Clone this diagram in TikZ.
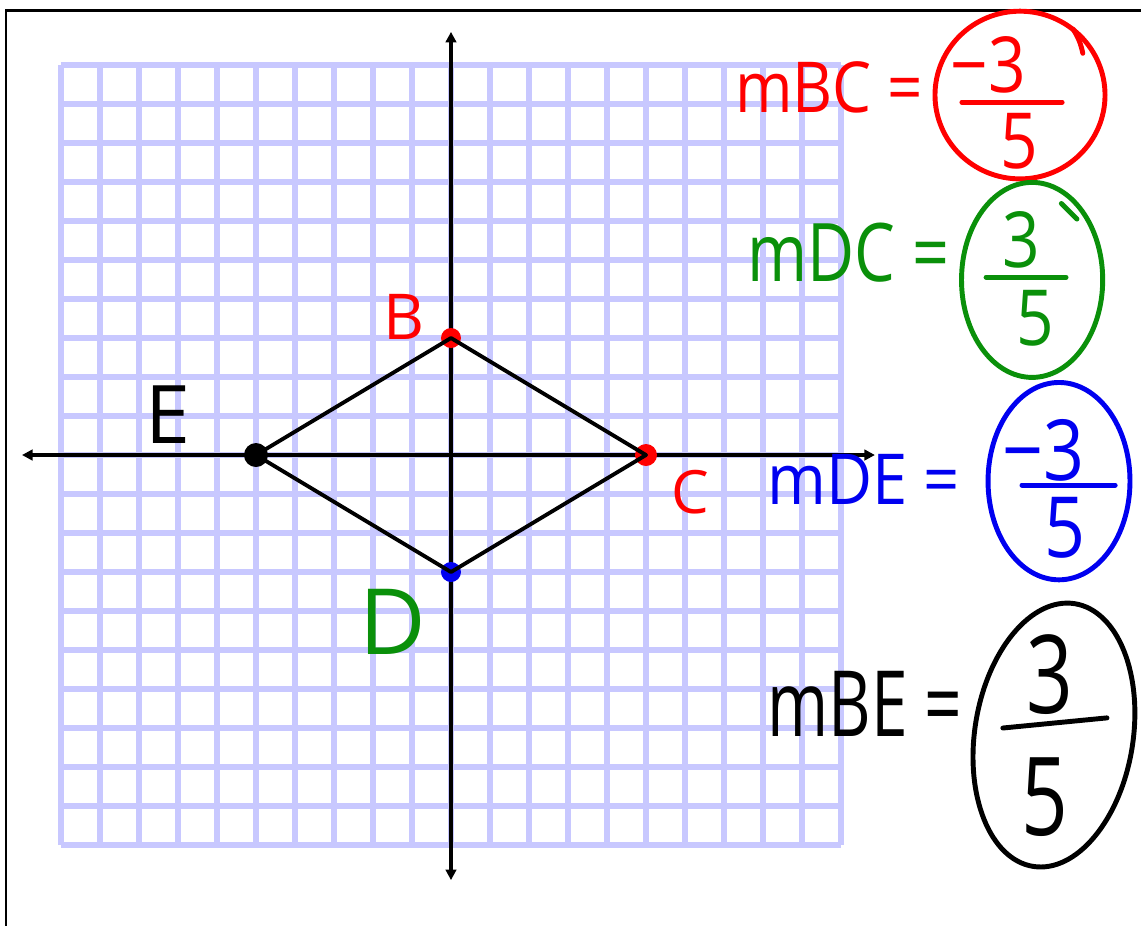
\documentclass[tikz,border=0pt]{standalone}
\usepackage{fontspec}
\setmainfont{Open Sans}
\usepackage{graphicx}
\usepackage{tikz}
\usetikzlibrary{arrows.meta}
\definecolor{GPaper}{HTML}{C8C8FF}
\definecolor{GRed}{HTML}{FF0000}
\definecolor{GGreen}{HTML}{0A900A}
\definecolor{GBlue}{HTML}{0000F0}
\newcommand\handfont[1]{\fontsize{#1}{#1}\selectfont}
\newcommand\squeeze[2]{\scalebox{#1}[1]{#2}}

\begin{document}
\begin{tikzpicture}[x=0.78cm,y=0.78cm,
  gridline/.style={GPaper,line width=3.4pt},
  axisline/.style={line width=1.8pt,{Triangle[length=6pt,width=6pt]}-{Triangle[length=6pt,width=6pt]}},
  side/.style={line width=2.2pt,line join=round},
  vertex/.style={circle,inner sep=0pt,minimum size=#1},
  ring/.style={line width=2.8pt},
  bar/.style={line width=2.8pt,line cap=round},
  eqn/.style={anchor=base west,inner sep=0pt}]
\path[use as bounding box] (-11.564,-12.051) rectangle (17.692,11.667);
\fill[white] (-11.564,-12.051) rectangle (17.692,11.667);
\draw[line width=1.7pt] (-11.41,-12.2) -- (-11.41,11.41) -- (17.8,11.41);
% graph paper
\draw[gridline,step=1] (-10,-10) grid (10,10);
% axes
\coordinate (xl) at (-11,0);
\coordinate (xr) at (10.87,0);
\coordinate (yb) at (0,-10.9);
\coordinate (yt) at (0,10.85);
\draw[axisline] (xl) -- (xr);
\draw[axisline] (yb) -- (yt);
% vertices of the rhombus
\node[vertex=0.4cm,fill=GRed] (B) at (0,3) {};
\node[vertex=0.44cm,fill=GRed] (C) at (5,0) {};
\node[vertex=0.4cm,fill=GBlue] (D) at (0,-3) {};
\node[vertex=0.48cm,fill=black] (E) at (-5,0) {};
\draw[side] (B.center) -- (C.center) -- (D.center) -- (E.center) -- cycle;
\node[text=GRed,font=\handfont{36}] (labB) at (-1.2,3.55) {B};
\node[font=\handfont{46}] (labE) at (-7.26,1.03) {E};
\node[text=GRed,font=\handfont{34}] (labC) at (6.13,-0.95) {C};
\node[text=GGreen,font=\handfont{52}] (labD) at (-1.49,-4.28) {D};
% slope of BC
\node[eqn,text=GRed,font=\handfont{40}] (eqBC) at (7.28,8.79) {\squeeze{0.88}{mBC =}};
\node[text=GRed,font=\handfont{44}] (numBC) at (13.77,10.0) {\squeeze{0.85}{−3}};
\node[text=GRed,font=\handfont{44}] (denBC) at (14.56,8.05) {\squeeze{0.85}{5}};
\draw[bar,GRed] (13.1,9.05) -- (15.67,9.05);
\draw[ring,GRed] (14.59,9.23) ellipse (2.18 and 2.15);
\draw[ring,GRed,line cap=round] (15.95,10.92) to[bend left=10] (16.2,10.3);
% slope of DC
\node[eqn,text=GGreen,font=\handfont{46}] (eqDC) at (7.59,4.44) {\squeeze{0.8}{mDC =}};
\node[text=GGreen,font=\handfont{44}] (numDC) at (14.62,5.51) {\squeeze{0.85}{3}};
\node[text=GGreen,font=\handfont{44}] (denDC) at (14.97,3.51) {\squeeze{0.85}{5}};
\draw[bar,GGreen] (13.72,4.56) -- (15.77,4.56);
\draw[ring,GGreen] (14.9,4.49) ellipse (1.81 and 2.5);
\draw[ring,GGreen,line cap=round] (15.65,6.45) -- (16.05,6.05);
% slope of DE
\node[eqn,text=GBlue,font=\handfont{40}] (eqDE) at (8.10,-1.28) {\squeeze{0.9}{mDE =}};
\node[text=GBlue,font=\handfont{48}] (numDE) at (15.18,0.13) {\squeeze{0.85}{−3}};
\node[text=GBlue,font=\handfont{48}] (denDE) at (15.74,-1.87) {\squeeze{0.85}{5}};
\draw[bar,GBlue] (14.64,-0.77) -- (17.03,-0.77);
\draw[ring,GBlue] (15.59,-0.67) ellipse (1.82 and 2.53);
% slope of BE
\node[eqn,font=\handfont{52}] (eqBE) at (8.10,-7.23) {\squeeze{0.72}{mBE =}};
\node[font=\handfont{62}] (numBE) at (15.36,-5.64) {\squeeze{0.75}{3}};
\node[font=\handfont{62}] (denBE) at (15.23,-8.77) {\squeeze{0.75}{5}};
\draw[bar] (14.15,-7.0) -- (16.82,-6.74);
\draw[ring,rotate around={-9:(15.46,-7.18)}] (15.46,-7.18) ellipse (2.03 and 3.41);
\end{tikzpicture}
\end{document}
